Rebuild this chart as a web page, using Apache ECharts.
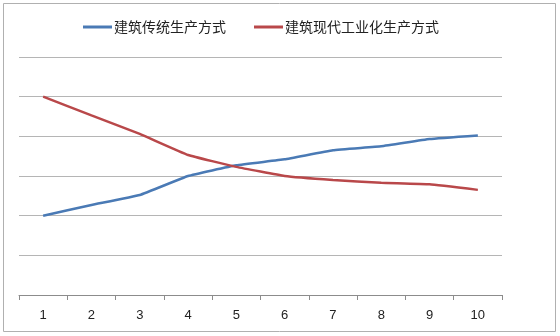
<!DOCTYPE html>
<html>
<head>
<meta charset="utf-8">
<script src="https://cdn.jsdelivr.net/npm/echarts@6/dist/echarts.min.js"></script>
<style>
html,body{margin:0;padding:0;background:#fff;}
#c{width:560px;height:336px;}
</style>
</head>
<body>
<div id="c"></div>
<script>
const categories = ['1','2','3','4','5','6','7','8','9','10'];
const seriesNames = ['建筑传统生产方式','建筑现代工业化生产方式'];
const traditional = [2.0, 2.27, 2.52, 3.0, 3.27, 3.42, 3.65, 3.75, 3.93, 4.02];
const modern = [5.0, 4.53, 4.06, 3.53, 3.23, 3.0, 2.9, 2.83, 2.79, 2.65];

const chart = echarts.init(document.getElementById('c'), null, {renderer:'canvas'});
chart.setOption({
  animation:false,
  backgroundColor:'#fff',
  graphic:[{type:'rect', shape:{x:3.5,y:3.5,width:552,height:328}, style:{fill:null, stroke:'#b0b0b0', lineWidth:1}, z:-1}],
  legend:{
    left:78, top:15,
    icon:'rect', itemWidth:29, itemHeight:3, itemGap:28,
    textStyle:{fontSize:14, color:'#222', fontFamily:'"Noto Sans CJK SC", sans-serif', padding:[0,0,0,-3]},
    data:seriesNames
  },
  grid:{left:19, right:58, top:57, bottom:41, containLabel:false},
  xAxis:{
    type:'category', data:categories, boundaryGap:true,
    axisLine:{lineStyle:{color:'#8c8c8c', width:1}},
    axisTick:{show:true, length:5, lineStyle:{color:'#8c8c8c'}},
    axisLabel:{fontSize:13, color:'#222', margin:14, fontFamily:'"Liberation Sans", sans-serif'},
    splitLine:{show:false}
  },
  yAxis:{
    type:'value', min:0, max:6, interval:1,
    axisLine:{show:false}, axisTick:{show:false}, axisLabel:{show:false},
    splitLine:{lineStyle:{color:'#b5b5b5', width:1}}
  },
  series:[
    {name:seriesNames[0], type:'line', data:traditional, symbol:'none', smooth:0.1,
     lineStyle:{color:'#4a7ab5', width:2.5}, itemStyle:{color:'#4a7ab5'}},
    {name:seriesNames[1], type:'line', data:modern, symbol:'none', smooth:0.1,
     lineStyle:{color:'#b9484a', width:2.5}, itemStyle:{color:'#b9484a'}}
  ]
});
</script>
</body>
</html>
